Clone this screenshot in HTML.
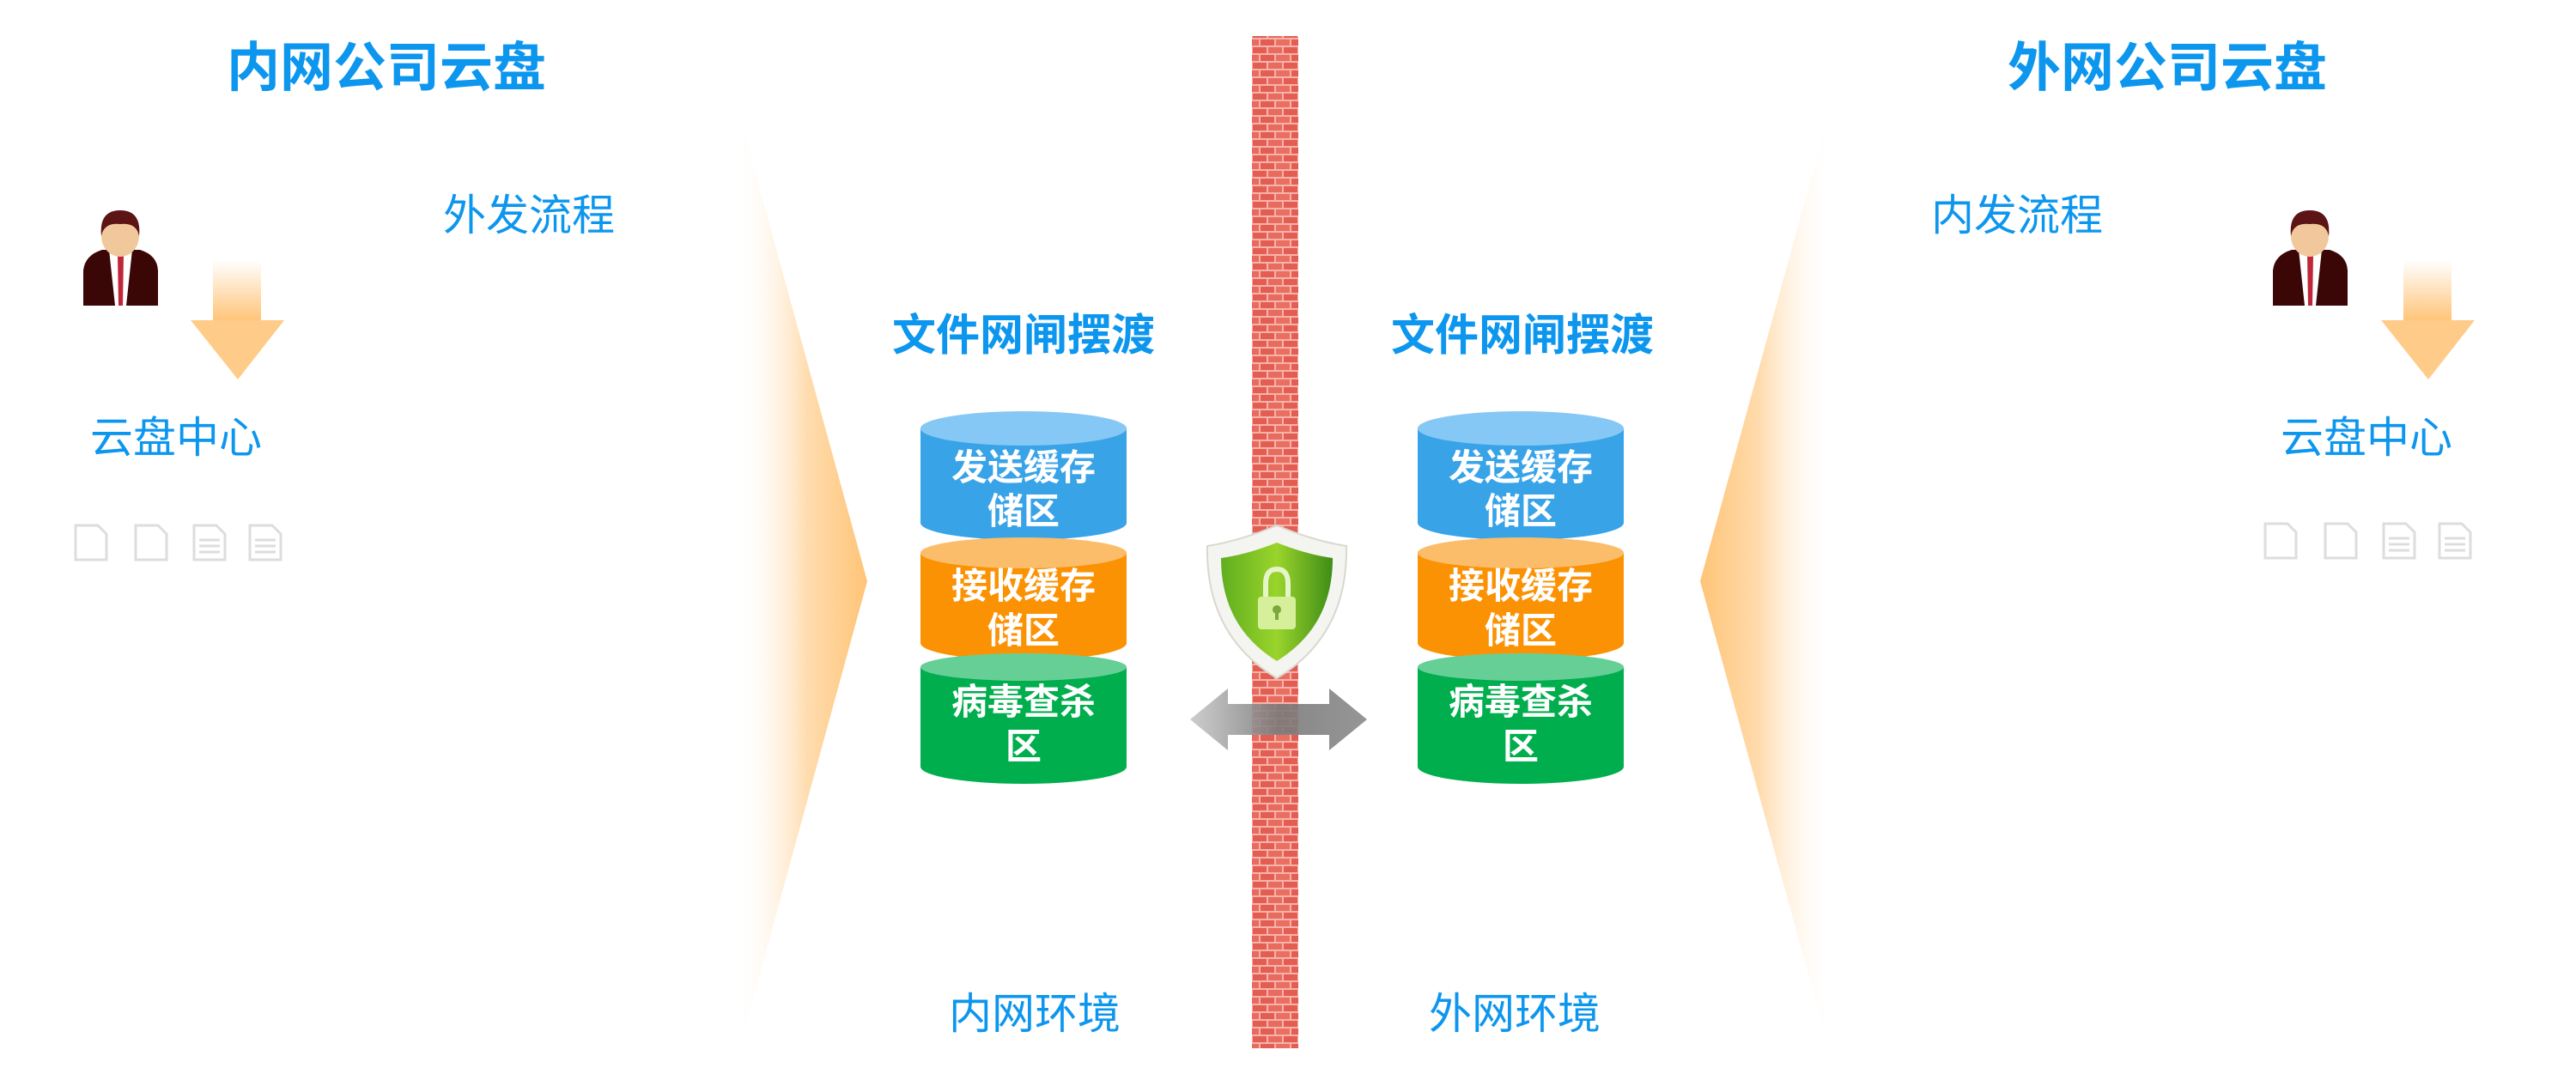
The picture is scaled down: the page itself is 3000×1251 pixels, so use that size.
<!DOCTYPE html>
<html><head><meta charset="utf-8"><style>
html,body{margin:0;padding:0;background:#fff;}
svg{display:block;}
text{font-family:"Liberation Sans","Noto Sans CJK SC",sans-serif;}
</style></head><body>
<svg width="3000" height="1251" viewBox="0 0 3000 1251" xmlns="http://www.w3.org/2000/svg">
<defs>
<linearGradient id="fl" x1="0" y1="0" x2="1" y2="0">
<stop offset="0" stop-color="#fff" stop-opacity="0"/><stop offset="0.55" stop-color="#ffdcae"/><stop offset="1" stop-color="#ffc477"/></linearGradient>
<linearGradient id="fr" x1="1" y1="0" x2="0" y2="0">
<stop offset="0" stop-color="#fff" stop-opacity="0"/><stop offset="0.55" stop-color="#ffdcae"/><stop offset="1" stop-color="#ffc477"/></linearGradient>
<linearGradient id="ad" x1="0" y1="0" x2="0" y2="1">
<stop offset="0" stop-color="#fff"/><stop offset="1" stop-color="#ffc57a"/></linearGradient>
<pattern id="brick" x="1458" width="54" height="18" patternUnits="userSpaceOnUse">
<rect width="54" height="18" fill="#f6b3aa"/>
<rect x="1" y="1" width="16" height="7" fill="#e45d52"/>
<rect x="19" y="1" width="16" height="7" fill="#e96a5f"/>
<rect x="37" y="1" width="16" height="7" fill="#e45d52"/>
<rect x="0" y="10" width="8" height="7" fill="#e96a5f"/>
<rect x="10" y="10" width="16" height="7" fill="#e45d52"/>
<rect x="28" y="10" width="16" height="7" fill="#ea6e62"/>
<rect x="46" y="10" width="8" height="7" fill="#e45d52"/>
</pattern>
<linearGradient id="sh" x1="0" y1="0" x2="1" y2="0">
<stop offset="0" stop-color="#5fae1e"/><stop offset="0.5" stop-color="#9ad42c"/><stop offset="1" stop-color="#3f8d16"/></linearGradient>
<linearGradient id="ar" x1="0" y1="0" x2="1" y2="0">
<stop offset="0" stop-color="#c8c8c8"/><stop offset="0.5" stop-color="#7a7a7a"/><stop offset="1" stop-color="#8a8a8a"/></linearGradient>
<g id="person">
<path d="M0 111 L0 70 Q2 52 22 46 L66 46 Q86 52 87 70 L87 111 Z" fill="#3a0606"/>
<path d="M30 46 L57 46 L50 111 L37 111 Z" fill="#fff"/>
<path d="M40 52 L47 52 L46 111 L41 111 Z" fill="#c0263a"/>
<ellipse cx="43" cy="30" rx="22" ry="24" fill="#f0c89c"/>
<path d="M21 30 Q18 0 43 0 Q68 0 65 30 Q62 14 43 16 Q24 14 21 30 Z" fill="#5c1414"/>
</g>
<g id="arrow">
<rect x="26" y="0" width="56" height="70" fill="url(#ad)"/>
<path d="M0 70 L109 70 L55 139 Z" fill="#ffcb88"/>
</g>
<g id="docs" fill="none" stroke="#ddd" stroke-width="3">
<path d="M2 3 L28 3 L38 13 L38 43 L2 43 Z"/>
<path d="M72 3 L98 3 L108 13 L108 43 L72 43 Z"/>
<path d="M140 3 L166 3 L176 13 L176 43 L140 43 Z M146 20h24 M146 27h24 M146 34h24"/>
<path d="M205 3 L231 3 L241 13 L241 43 L205 43 Z M211 20h24 M211 27h24 M211 34h24"/>
</g>
<g id="cyl">
<path d="M0 20 L0 130 A120 20 0 0 0 240 130 L240 20 Z" fill="#39a3e8"/>
<ellipse cx="120" cy="20" rx="120" ry="20" fill="#86c8f5"/>
<path d="M0 165 L0 270 A120 20 0 0 0 240 270 L240 165 Z" fill="#fb9204"/>
<ellipse cx="120" cy="165" rx="120" ry="18" fill="#fcbd6a"/>
<path d="M0 298 L0 414 A120 20 0 0 0 240 414 L240 298 Z" fill="#00ae4e"/>
<ellipse cx="120" cy="298" rx="120" ry="16" fill="#66cf96"/>
<g fill="#fff" font-weight="bold" font-size="42" text-anchor="middle">
<text x="120" y="80">发送缓存</text><text x="120" y="131">储区</text>
<text x="120" y="218">接收缓存</text><text x="120" y="270">储区</text>
<text x="120" y="353">病毒查杀</text><text x="120" y="405">区</text>
</g>
</g>
</defs>

<polygon points="856,115 1010,677 856,1240" fill="url(#fl)"/>
<polygon points="2135,115 1980,677 2135,1240" fill="url(#fr)"/>

<rect x="1458" y="42" width="54" height="1179" fill="url(#brick)"/>

<g fill="#0d96ee" font-weight="bold" font-size="62" text-anchor="middle">
<text x="450" y="100">内网公司云盘</text>
<text x="2524" y="100">外网公司云盘</text>
</g>
<g fill="#0d96ee" font-weight="bold" font-size="51" text-anchor="middle">
<text x="1192" y="408">文件网闸摆渡</text>
<text x="1773" y="408">文件网闸摆渡</text>
</g>
<g fill="#0d96ee" font-size="50" text-anchor="middle">
<text x="616" y="268">外发流程</text>
<text x="2349" y="268">内发流程</text>
<text x="205" y="527">云盘中心</text>
<text x="2756" y="527">云盘中心</text>
<text x="1205" y="1198">内网环境</text>
<text x="1764" y="1198">外网环境</text>
</g>

<use href="#person" x="97" y="245"/>
<use href="#person" x="2647" y="245"/>
<use href="#arrow" x="222" y="303"/>
<use href="#arrow" x="2773" y="303"/>
<use href="#docs" x="86" y="609"/>
<use href="#docs" x="2636" y="607"/>

<use href="#cyl" x="1072" y="479"/>
<use href="#cyl" x="1651" y="479"/>

<path d="M1386 838 L1430 802 L1430 820 L1548 820 L1548 802 L1592 838 L1548 874 L1548 856 L1430 856 L1430 874 Z" fill="url(#ar)" opacity="0.9"/>

<path d="M1487 612 Q1530 630 1568 636 Q1570 740 1487 790 Q1404 740 1406 636 Q1444 630 1487 612 Z" fill="#f4f4f0" stroke="#d8d8d0" stroke-width="2"/>
<path d="M1487 632 Q1522 646 1552 650 Q1552 730 1487 770 Q1422 730 1422 650 Q1452 646 1487 632 Z" fill="url(#sh)"/>
<path d="M1474 697 L1474 680 Q1474 663 1487 663 Q1500 663 1500 680 L1500 697" fill="none" stroke="#e6f5c8" stroke-width="6"/>
<rect x="1465" y="695" width="44" height="38" rx="4" fill="#d6ef9a"/>
<circle cx="1487" cy="710" r="5" fill="#7aa83a"/><rect x="1485" y="712" width="4" height="10" fill="#7aa83a"/>
</svg>
</body></html>
